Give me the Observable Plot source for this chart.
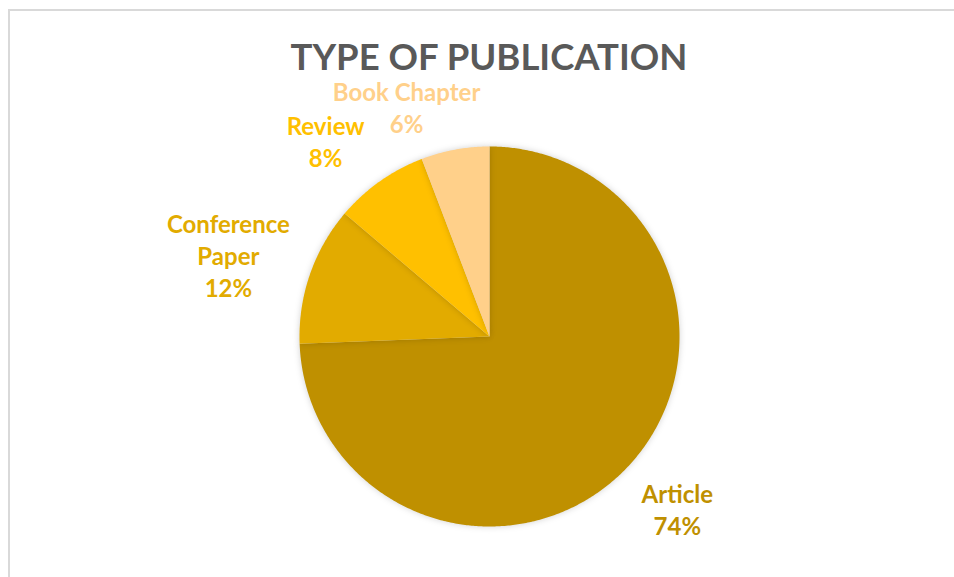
<!DOCTYPE html>
<html>
<head>
<meta charset="utf-8">
<script src="https://cdn.jsdelivr.net/npm/d3@7"></script>
<script src="https://cdn.jsdelivr.net/npm/@observablehq/plot@0.6"></script>
<style>
  html, body { margin: 0; padding: 0; background: #fff; width: 954px; height: 577px; overflow: hidden; }
  #wrap { position: relative; width: 954px; height: 577px; }
  #border { position: absolute; left: 8px; top: 9px; width: 960px; height: 600px; border-top: 2px solid #D9D9D9; border-left: 2px solid #D9D9D9; box-sizing: border-box; }
  #title { position: absolute; left: 12px; width: 954px; top: 38px; text-align: center; font-family: Lato, sans-serif; font-weight: 700; font-size: 36.5px; color: #595959; line-height: 1; letter-spacing: 0; }
  #chart { position: absolute; left: 0; top: 0; }
  #chart path { filter: drop-shadow(0px 0px 3px rgba(0,0,0,0.18)); }
</style>
</head>
<body>
<div id="wrap">
  <div id="border"></div>
  <div id="chart"></div>
  <div id="title">TYPE OF PUBLICATION</div>
</div>
<script>
// ---- data ----
const categories = ["Article", "Conference Paper", "Review", "Book Chapter"];
const values = [74.4, 11.8, 8.0, 5.8];
const labelLines = ["Article", "Conference\nPaper", "Review", "Book Chapter"];
const colors = ["#BF9000", "#E2AB00", "#FFC000", "#FFD08A"];

// ---- layout (label placement relative to slice mid-angle) ----
const labelRadius = [1.341, 1.44, 1.345, 1.286];
const labelAngleShift = [-1.4, -1.7, -4.6, -9.4]; // degrees

const W = 954, H = 577, CX = 489, CY = 336, R = 190;

const arcs = d3.pie().sort(null).value(d => d)(values);
const total = d3.sum(values);

// slice polygons in unit-radius data space (angle 0 at top, clockwise)
const polys = [];
arcs.forEach((a, i) => {
  polys.push({cat: categories[i], x: 0, y: 0});
  const n = Math.max(2, Math.ceil((a.endAngle - a.startAngle) / (Math.PI / 360)));
  for (let k = 0; k <= n; k++) {
    const t = a.startAngle + (a.endAngle - a.startAngle) * k / n;
    polys.push({cat: categories[i], x: Math.sin(t), y: Math.cos(t)});
  }
});

const labels = arcs.map((a, i) => {
  const mid = (a.startAngle + a.endAngle) / 2 + labelAngleShift[i] * Math.PI / 180;
  const r = labelRadius[i];
  return {
    cat: categories[i],
    x: r * Math.sin(mid),
    y: r * Math.cos(mid),
    text: labelLines[i] + "\n" + Math.round(values[i] / total * 100) + "%"
  };
});

const chart = Plot.plot({
  width: W,
  height: H,
  margin: 0,
  x: {domain: [-CX / R, (W - CX) / R], axis: null},
  y: {domain: [-(H - CY) / R, CY / R], axis: null},
  color: {domain: categories, range: colors},
  style: {background: "transparent", overflow: "visible"},
  marks: [
    Plot.line(polys, {x: "x", y: "y", z: "cat", fill: "cat", stroke: "none", curve: "linear-closed"}),
    Plot.text(labels, {x: "x", y: "y", text: "text", fill: "cat", fontSize: 24, fontWeight: 700,
      fontFamily: "Lato, sans-serif", lineAnchor: "middle", textAnchor: "middle", lineHeight: 1.33})
  ]
});
document.getElementById("chart").appendChild(chart);
</script>
</body>
</html>
